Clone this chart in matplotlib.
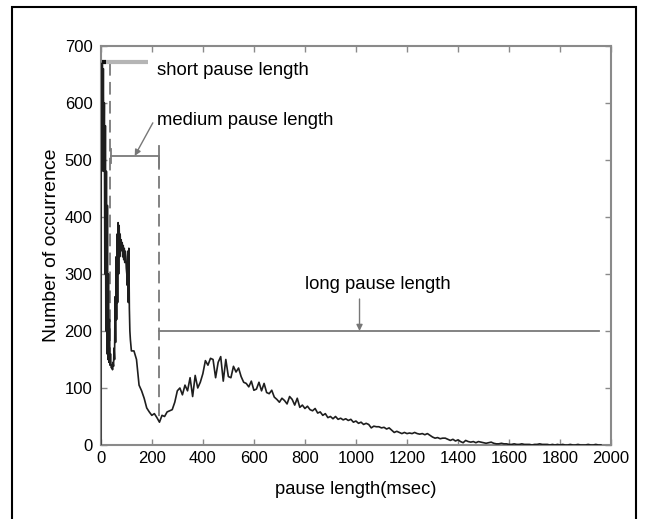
import matplotlib
matplotlib.use("Agg")
import matplotlib.pyplot as plt
from matplotlib.patches import Rectangle
import numpy as np

plt.rcParams['font.family'] = ['Liberation Sans', 'DejaVu Sans']

# early part (2 ms resolution)
x_early = list(range(0, 122, 2))
y_early = [0, 660, 480, 670, 520, 660, 480, 600, 300, 560, 200, 480, 160, 420, 150,
           300, 145, 220, 140, 160, 140, 135, 140, 132, 145, 138, 170, 150, 260, 180,
           330, 220, 370, 250, 390, 300, 385, 330, 370, 340, 360, 345, 355, 330, 350,
           325, 345, 320, 340, 330, 310, 300, 280, 340, 250, 345, 240, 200, 185, 175, 165]

# later part (10 ms resolution)
x_late = list(range(130, 1970, 10))
y_late = [165, 150, 105, 95, 82, 65, 58, 52, 55, 48, 40, 52, 50, 58, 60, 62, 75, 95, 100, 88,
          105, 95, 118, 85, 122, 100, 110, 125, 148, 140, 152, 150, 118, 145, 155, 112, 150, 120, 118, 138,
          128, 135, 120, 110, 108, 102, 112, 96, 98, 110, 95, 108, 92, 90, 96, 84, 80, 75, 82, 78,
          72, 85, 80, 70, 82, 66, 70, 64, 68, 62, 60, 64, 56, 58, 52, 55, 48, 50, 46, 50,
          45, 47, 44, 46, 43, 45, 40, 42, 38, 40, 36, 38, 36, 30, 33, 32, 32, 30, 31, 28,
          30, 26, 22, 24, 22, 20, 22, 20, 21, 20, 22, 20, 19, 20, 18, 20, 17, 14, 12, 13,
          11, 12, 12, 10, 8, 10, 7, 9, 6, 4, 8, 6, 5, 6, 4, 6, 5, 4, 3, 4,
          5, 3, 2, 2, 3, 2, 2, 1, 1, 2, 1, 1, 2, 1, 1, 1, 0, 1, 1, 2,
          1, 1, 1, 0, 1, 0, 1, 0, 1, 0, 0, 1, 0, 0, 1, 0, 0, 0, 1, 0,
          0, 1, 0, 0]

x_vals = x_early + x_late
y_vals = y_early + y_late

x_ticks = [0, 200, 400, 600, 800, 1000, 1200, 1400, 1600, 1800, 2000]
y_ticks = [0, 100, 200, 300, 400, 500, 600, 700]

short_label = "short pause length"
medium_label = "medium pause length"
long_label = "long pause length"

fig = plt.figure(figsize=(6.46, 5.19), dpi=100)
ax = fig.add_axes([0.156, 0.1426, 0.790, 0.769])

spine_c = '#8a8a8a'
ax.plot(x_vals, y_vals, color='#1e1e1e', lw=1.2, zorder=3)

ax.set_xlim(0, 2000)
ax.set_ylim(0, 700)
ax.set_xticks(x_ticks)
ax.set_yticks(y_ticks)
ax.tick_params(direction='in', top=True, right=True, length=4, width=1, color=spine_c,
               labelsize=12)
ax.tick_params(axis='y', pad=6)
ax.tick_params(axis='x', pad=4)
for s in ax.spines.values():
    s.set_color(spine_c)
    s.set_linewidth(1.5)

ax.set_xlabel("pause length(msec)", fontsize=13.2, labelpad=11)
ax.set_ylabel("Number of occurrence", fontsize=14, labelpad=3)

dash_c = '#7a7a7a'
dash_ls = (0, (7, 3.5))
# short pause
ax.plot([38, 38], [670, 140], color=dash_c, lw=1.3, ls=dash_ls, zorder=2)
ax.plot([5, 185], [672, 672], color='#b5b5b5', lw=3, solid_capstyle='butt', zorder=4)
ax.plot([3, 20], [672, 672], color='#111111', lw=3, solid_capstyle='butt', zorder=5)
ax.text(219, 657, short_label, fontsize=13.3, va='center', ha='left')

# medium pause
ax.plot([230, 230], [505, 40], color=dash_c, lw=1.3, ls=dash_ls, zorder=2)
ax.plot([40, 230], [507, 507], color=dash_c, lw=1.3, zorder=2)
ax.plot([230, 230], [487, 525], color=dash_c, lw=1.3, zorder=2)
ax.plot([40, 40], [495, 520], color=dash_c, lw=1.3, zorder=2)
ax.annotate("", xy=(133, 507), xytext=(204, 565),
            arrowprops=dict(arrowstyle='-|>', color='#777777', lw=1, mutation_scale=9,
                            shrinkA=0, shrinkB=0), zorder=4)
ax.text(219, 569, medium_label, fontsize=13.3, va='center', ha='left')

# long pause
ax.plot([230, 1953], [200, 200], color=dash_c, lw=1.3, zorder=2)
ax.annotate("", xy=(1014, 200), xytext=(1014, 256),
            arrowprops=dict(arrowstyle='-|>', color='#777777', lw=1, mutation_scale=9,
                            shrinkA=0, shrinkB=0), zorder=4)
ax.text(802, 282, long_label, fontsize=13.3, va='center', ha='left')

# outer frame
fig.patches.append(Rectangle((12 / 646, -0.05), (636 - 12) / 646, (519 - 7) / 519 + 0.05,
                             transform=fig.transFigure, fill=False, edgecolor='black',
                             lw=1.5, zorder=0))

fig.savefig("out.png", dpi=100)
